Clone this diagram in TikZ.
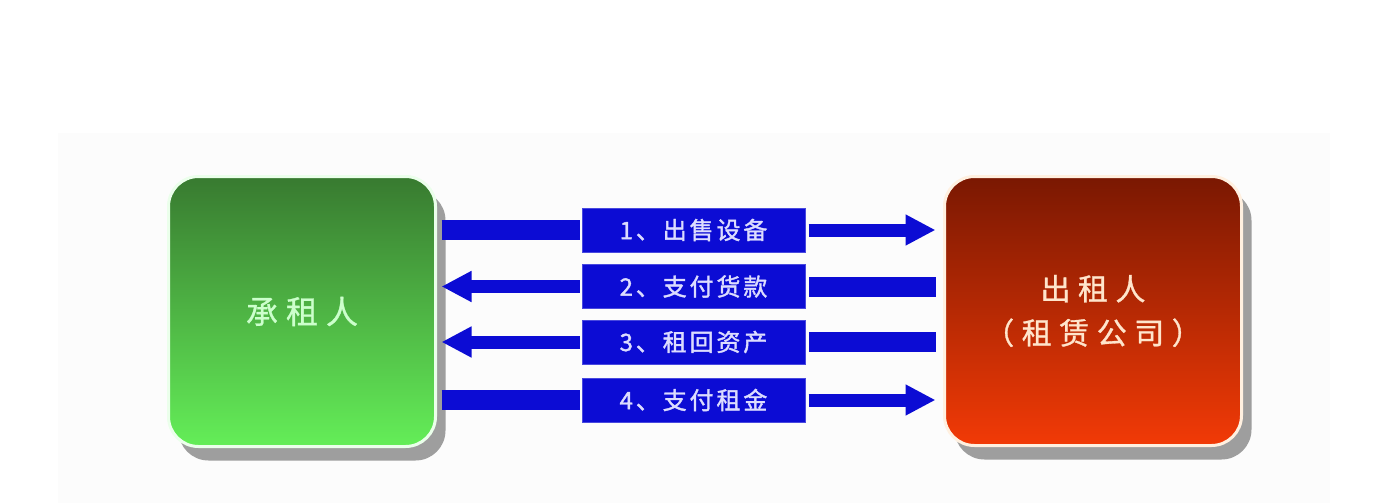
\documentclass[tikz,border=0pt]{standalone}
\usepackage{fontspec}
\newfontfamily\cjk[LetterSpace=12, FakeBold=1.5]{Noto Sans CJK SC}
\newfontfamily\cjkbox[LetterSpace=25, FakeBold=1]{Noto Sans CJK SC}
\usetikzlibrary{positioning}
\usetikzlibrary{arrows.meta}
\usetikzlibrary{shadows}
\definecolor{greenTop}{RGB}{56,122,48}
\definecolor{greenBot}{RGB}{100,238,88}
\definecolor{redTop}{RGB}{122,24,2}
\definecolor{redBot}{RGB}{242,58,6}
\definecolor{barBlue}{RGB}{12,12,212}
\definecolor{stepText}{RGB}{220,220,255}
\tikzset{x=0.5pt, y=-0.5pt,
party/.style={ % Sets the properties for both parties
rounded corners=15pt,
line width=1.5pt,
align=center,
drop shadow={shadow xshift=5pt, shadow yshift=-7pt, fill=black!38, opacity=1}},
lessee/.style={party, minimum width=133.5pt, minimum height=135pt,
draw=green!8!white, top color=greenTop, bottom color=greenBot,
text=green!20!white, font=\cjkbox\fontsize{16pt}{20pt}\selectfont},
lessor/.style={party, minimum width=148.5pt, minimum height=134.5pt,
draw=orange!12!white, top color=redTop, bottom color=redBot,
text=orange!20!white, font=\cjkbox\fontsize{15pt}{22pt}\selectfont},
stepbox/.style={ % Sets the properties for the numbered steps
fill=barBlue, draw=barBlue!75!white, line width=0.5pt,
minimum width=111.5pt, minimum height=22pt, inner sep=0pt,
text=stepText, font=\cjk\fontsize{12pt}{14pt}\selectfont},
plainbar/.style={draw=barBlue, line width=10pt}, % Bar with no head
tipbar/.style={draw=barBlue, line width=6.5pt, % Bar with a big head
-{Triangle[length=15pt, width=14.5pt]}}}

\begin{document}
\begin{tikzpicture}
\useasboundingbox (0,0) rectangle (1383,503);
\fill[black!1] (58,133) rectangle (1330,503);
\node[lessee] (lessee) at (302,311.5) {承租人};
\node[lessor] (lessor) at (1093,311) {出租人\\（租赁公司）};
\node[stepbox] (sell) at (693.5,230) {1、出售设备};
\node[stepbox] (pay) at (693.5,286.5) {2、支付货款};
\node[stepbox] (leaseback) at (693.5,342) {3、租回资产};
\node[stepbox] (rent) at (693.5,400) {4、支付租金};
\draw (lessee.east |- sell) edge[plainbar, shorten <=2.25pt, shorten >=1pt] (sell);
\draw (sell) edge[tipbar, shorten <=1.5pt, shorten >=3.75pt] (lessor.west |- sell);
\draw (pay) edge[tipbar, shorten <=1pt, shorten >=2.25pt] (lessee.east |- pay);
\draw (lessor.west |- pay) edge[plainbar, shorten <=3.75pt, shorten >=1.5pt] (pay);
\draw (leaseback) edge[tipbar, shorten <=1pt, shorten >=2.25pt] (lessee.east |- leaseback);
\draw (lessor.west |- leaseback) edge[plainbar, shorten <=3.75pt, shorten >=1.5pt] (leaseback);
\draw (lessee.east |- rent) edge[plainbar, shorten <=2.25pt, shorten >=1pt] (rent);
\draw (rent) edge[tipbar, shorten <=1.5pt, shorten >=3.75pt] (lessor.west |- rent);
\end{tikzpicture}
\end{document}
